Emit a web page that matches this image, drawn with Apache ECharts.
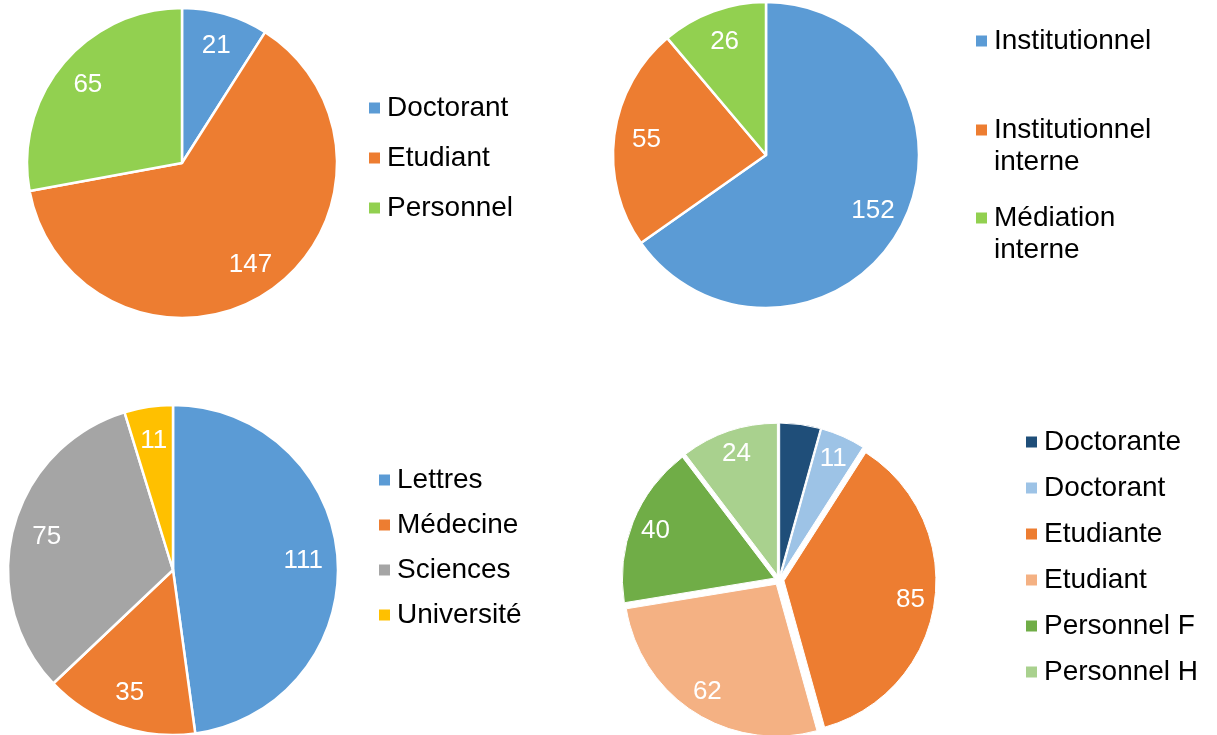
<!DOCTYPE html>
<html>
<head>
<meta charset="utf-8">
<script src="https://cdn.jsdelivr.net/npm/echarts@6/dist/echarts.min.js"></script>
<style>
  html, body { margin: 0; padding: 0; background: #fff; }
  #chart { width: 1217px; height: 735px; }
</style>
</head>
<body>
<div id="chart"></div>
<script>
// Statut des demandeurs
const statutNames = ['Doctorant', 'Etudiant', 'Personnel'];
const statutValues = [21, 147, 65];

// Origine de la saisine
const origineNames = ['Institutionnel', 'Institutionnel interne', 'Médiation interne'];
const origineValues = [152, 55, 26];

// Composante
const composanteNames = ['Lettres', 'Médecine', 'Sciences', 'Université'];
const composanteValues = [111, 35, 75, 11];

// Statut et genre
const genreNames = ['Doctorante', 'Doctorant', 'Etudiante', 'Etudiant', 'Personnel F', 'Personnel H'];
const genreValues = [10, 11, 85, 62, 40, 24];
const genreShowLabel = [false, true, true, true, true, true];

const FONT = '"Liberation Sans", Arial, sans-serif';
const blue = '#5B9BD5', orange = '#ED7D31', green = '#92D050', grey = '#A5A5A5', gold = '#FFC000';
const colorsA = [blue, orange, green];
const colorsB = [blue, orange, green];
const colorsC = [blue, orange, grey, gold];
const colorsD = ['#1F4E79', '#9DC3E6', '#ED7D31', '#F4B183', '#70AD47', '#A9D18E'];

const series = [];
const legends = [];

// One visible pie plus a transparent ring carrying the value labels,
// so the labels sit towards the rim rather than at mid-radius.
function addPie(names, values, colors, center, r, labelInner, labelOuter, extra) {
  extra = extra || {};
  series.push({
    type: 'pie',
    center: center,
    radius: r,
    startAngle: 90,
    clockwise: true,
    animation: false,
    label: { show: false },
    labelLine: { show: false },
    emphasis: { disabled: true },
    selectedMode: extra.exploded ? 'multiple' : false,
    selectedOffset: extra.exploded || 0,
    select: { itemStyle: {} },
    itemStyle: { borderColor: '#fff', borderWidth: extra.border == null ? 2.5 : extra.border },
    data: names.map((n, i) => ({
      name: n, value: values[i],
      selected: !!extra.exploded,
      itemStyle: { color: colors[i] }
    }))
  });
  series.push({
    type: 'pie',
    center: center,
    radius: [labelInner, labelOuter],
    startAngle: 90,
    clockwise: true,
    animation: false,
    silent: true,
    labelLine: { show: false },
    itemStyle: { color: 'rgba(0,0,0,0)', borderWidth: 0 },
    label: {
      show: true, position: 'inside', formatter: '{c}',
      color: '#fff', fontSize: 26, fontFamily: FONT
    },
    data: names.map((n, i) => ({
      name: n, value: values[i],
      label: { show: extra.showLabel ? extra.showLabel[i] : true }
    }))
  });
}

function legendItems(names, colors) {
  return names.map((n, i) => ({ name: n, itemStyle: { color: colors[i] } }));
}

// Two-line entries get a blank leading line so the marker lines up with the first line.
function addLegend(names, colors, left, top, gap, twoLine) {
  legends.push({
    orient: 'vertical',
    left: left - 1, top: top,
    padding: 0,
    itemGap: gap,
    itemWidth: 13, itemHeight: 13,
    icon: 'rect',
    selectedMode: false,
    formatter: twoLine ? (name => ' \n' + name.replace(' ', '\n')) : '{name}',
    textStyle: {
      color: '#000', fontSize: 28, fontFamily: FONT, lineHeight: 32,
      padding: [0, 0, 0, 1]
    },
    data: legendItems(names, colors)
  });
}

addPie(statutNames, statutValues, colorsA, [182, 163], 155, 84, 155);
addLegend(statutNames, colorsA, 368, 92, 18, false);

addPie(origineNames, origineValues, colorsB, [766, 155], 153, 82, 153);
addLegend([origineNames[0]], [colorsB[0]], 975, 25, 0, false);
addLegend([origineNames[1]], [colorsB[1]], 975, 82, 0, true);
addLegend([origineNames[2]], [colorsB[2]], 975, 170, 0, true);

addPie(composanteNames, composanteValues, colorsC, [173, 570], 165, 90, 165);
addLegend(composanteNames, colorsC, 378, 464, 13, false);

addPie(genreNames, genreValues, colorsD, [779, 580], 152, 108, 152,
       { exploded: 5, border: 1, showLabel: genreShowLabel });
addLegend(genreNames, colorsD, 1025, 426, 14, false);

const chart = echarts.init(document.getElementById('chart'), null, { renderer: 'canvas' });
chart.setOption({
  animation: false,
  backgroundColor: '#fff',
  legend: legends,
  series: series
});
</script>
</body>
</html>
